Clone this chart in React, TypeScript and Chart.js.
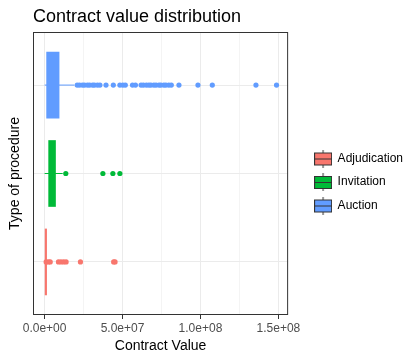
import React, { useEffect, useRef } from 'react';
import { Chart, registerables } from 'chart.js';

Chart.register(...registerables);

// Categories (bottom to top on the y axis) and their colours
const categories = ['Adjudication', 'Invitation', 'Auction'];
const categoryPositions = [1, 2, 3];
const colors = ['#F8766D', '#00BA38', '#619CFF'];

// Box statistics per category (same order as categories)
const q1Values = [0, 2.6e6, 1.3e6];
const q3Values = [1.3e6, 7.0e6, 9.3e6];
const whiskerLowValues = [0, 0, 0];
const whiskerHighValues = [2.0e6, 11.6e6, 19.0e6];

// Outliers per category
const adjudicationOutliers = [1.0e6, 2.5e6, 3.6e6, 8.9e6, 10.5e6, 12.2e6, 13.8e6, 23.0e6, 44.3e6, 45.2e6];
const invitationOutliers = [13.6e6, 37.4e6, 43.8e6, 48.3e6];
const auctionOutliers = [
  20.9e6, 22.4e6, 24.3e6, 25.6e6, 27.5e6, 28.9e6, 30.8e6, 32.0e6, 33.9e6, 35.5e6,
  39.4e6, 44.1e6, 48.3e6, 50.2e6, 51.8e6, 56.4e6, 58.3e6, 61.9e6, 63.4e6, 65.3e6,
  66.9e6, 68.2e6, 70.1e6, 71.5e6, 73.4e6, 74.6e6, 76.5e6, 77.8e6, 79.7e6, 81.3e6,
  86.2e6, 98.4e6, 107.6e6, 135.6e6, 148.8e6,
];
const outlierLists = [adjudicationOutliers, invitationOutliers, auctionOutliers];

// Axis ticks and limits
const xTickValues = [0, 2.5e7, 5e7, 7.5e7, 1e8, 1.25e8, 1.5e8];
const xMajorTicks = [0, 5e7, 1e8, 1.5e8];
const xMin = -7.44e6;
const xMax = 156.24e6;
const yMin = 0.4;
const yMax = 3.6;

const FONT = "'Liberation Sans', Arial, sans-serif";

function formatSci(v: number): string {
  const [mant, exp] = v.toExponential(1).split('e');
  const sign = exp[0];
  const digits = exp.slice(1).padStart(2, '0');
  return `${mant}e${sign}${digits}`;
}

function makeKey(color: string): HTMLCanvasElement {
  const c = document.createElement('canvas');
  c.width = 18;
  c.height = 18;
  const g = c.getContext('2d')!;
  g.strokeStyle = '#333333';
  g.lineWidth = 1;
  g.beginPath();
  g.moveTo(9, 0);
  g.lineTo(9, 18);
  g.stroke();
  g.fillStyle = color;
  g.fillRect(0.5, 3.5, 17, 12);
  g.strokeRect(0.5, 3.5, 17, 12);
  g.beginPath();
  g.moveTo(0.5, 9.5);
  g.lineTo(17.5, 9.5);
  g.stroke();
  return c;
}

const panelBorder = {
  id: 'panelBorder',
  afterDraw(chart: any) {
    const { ctx, chartArea } = chart;
    const { left, top, right, bottom } = chartArea;
    ctx.save();
    ctx.strokeStyle = '#333333';
    ctx.lineWidth = 1;
    ctx.strokeRect(left + 0.5, top + 0.5, right - left - 1, bottom - top - 1);
    ctx.restore();
  },
};

export default function App() {
  const ref = useRef<HTMLCanvasElement>(null);

  useEffect(() => {
    if (!ref.current) return;
    const keys = colors.map(makeKey);

    const datasets: any[] = [];

    // Boxes (floating horizontal bars)
    datasets.push({
      type: 'bar',
      indexAxis: 'y',
      data: categories.map((_, i) => ({ x: [q1Values[i], q3Values[i]], y: categoryPositions[i] })),
      backgroundColor: colors,
      borderWidth: 0,
      barThickness: 66,
      order: 1,
    });

    // Whiskers
    categories.forEach((_, i) => {
      datasets.push({
        type: 'line',
        data: [
          { x: whiskerLowValues[i], y: categoryPositions[i] },
          { x: whiskerHighValues[i], y: categoryPositions[i] },
        ],
        borderColor: colors[i],
        borderWidth: 1,
        pointRadius: 0,
        fill: false,
        order: 2,
      });
    });

    // Outliers
    categories.forEach((_, i) => {
      datasets.push({
        type: 'scatter',
        data: outlierLists[i].map((v) => ({ x: v, y: categoryPositions[i] })),
        backgroundColor: colors[i],
        borderWidth: 0,
        pointRadius: 2.6,
        showLine: false,
        order: 0,
      });
    });

    const chart = new Chart(ref.current, {
      type: 'bar',
      data: { datasets },
      plugins: [panelBorder],
      options: {
        indexAxis: 'y',
        responsive: false,
        animation: false,
        devicePixelRatio: 1,
        events: [],
        layout: { padding: { left: 0, right: 5, top: 5, bottom: 0 } },
        scales: {
          x: {
            type: 'linear',
            position: 'bottom',
            min: xMin,
            max: xMax,
            offset: false,
            afterBuildTicks(scale: any) {
              scale.ticks = xTickValues.map((v) => ({ value: v }));
            },
            afterFit(scale: any) {
              scale.height = 44;
            },
            grid: {
              offset: false,
              color: (ctx: any) => (xMajorTicks.includes(ctx.tick?.value) ? '#EBEBEB' : '#F4F4F4'),
              tickColor: (ctx: any) => (xMajorTicks.includes(ctx.tick?.value) ? '#333333' : 'rgba(0,0,0,0)'),
              tickLength: 4,
              lineWidth: 1,
            },
            border: { display: false },
            ticks: {
              autoSkip: false,
              maxRotation: 0,
              padding: 2,
              color: '#4D4D4D',
              font: { family: FONT, size: 12 },
              callback: (v: any) => (xMajorTicks.includes(Number(v)) ? formatSci(Number(v)) : ''),
            },
            title: {
              display: true,
              text: 'Contract Value',
              color: '#000000',
              font: { family: FONT, size: 14 },
              padding: { top: 0, bottom: 4.6 },
            },
          },
          y: {
            type: 'linear',
            position: 'left',
            min: yMin,
            max: yMax,
            offset: false,
            afterBuildTicks(scale: any) {
              scale.ticks = categoryPositions.map((v) => ({ value: v }));
            },
            afterFit(scale: any) {
              scale.width = 33;
            },
            grid: { offset: false, color: '#EBEBEB', tickLength: 0, drawTicks: false },
            border: { display: false },
            ticks: { display: false },
            title: {
              display: true,
              text: 'Type of procedure',
              color: '#000000',
              font: { family: FONT, size: 14 },
              padding: { top: 6.6, bottom: 0 },
            },
          },
          ySpacer: {
            type: 'linear',
            position: 'right',
            display: true,
            offset: false,
            grid: { display: false, drawTicks: false },
            border: { display: false },
            ticks: { display: false },
            afterFit(scale: any) {
              scale.width = 15;
            },
          },
        },
        plugins: {
          title: {
            display: true,
            text: 'Contract value distribution',
            align: 'start',
            fullSize: false,
            color: '#000000',
            font: { family: FONT, size: 18, weight: 'normal' },
            padding: { top: 1.2, bottom: 4.2 },
          },
          legend: {
            display: true,
            position: 'right',
            align: 'center',
            maxWidth: 140,
            onClick: () => {},
            labels: {
              usePointStyle: true,
              pointStyleWidth: 17,
              padding: 11.5,
              color: '#000000',
              font: { family: FONT, size: 12 },
              generateLabels: () =>
                categories.map((name, i) => ({
                  text: name,
                  pointStyle: keys[i],
                  fillStyle: colors[i],
                  strokeStyle: '#333333',
                  lineWidth: 0,
                  hidden: false,
                  datasetIndex: i,
                  fontColor: '#000000',
                })),
            },
          },
          tooltip: { enabled: false },
        },
      } as any,
    });

    return () => chart.destroy();
  }, []);

  return (
    <div style={{ position: 'absolute', left: 0, top: 0, width: 418, height: 359, background: '#ffffff' }}>
      <canvas ref={ref} width={418} height={359} style={{ width: 418, height: 359, display: 'block' }} />
    </div>
  );
}
